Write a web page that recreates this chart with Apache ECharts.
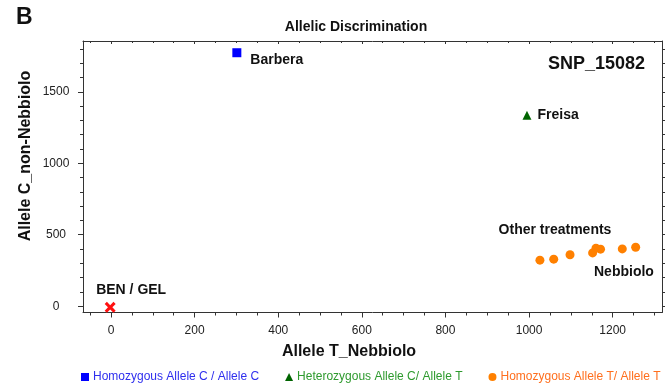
<!DOCTYPE html>
<html>
<head>
<meta charset="utf-8">
<script src="https://cdn.jsdelivr.net/npm/echarts@6/dist/echarts.min.js"></script>
<style>html,body{margin:0;padding:0;background:#fff;}#c{width:668px;height:390px;}</style>
</head>
<body>
<div id="c"></div>
<script>
// ---- data ----
const seriesNames = ['Homozygous Allele C / Allele C', 'Heterozygous Allele C/ Allele T', 'Homozygous Allele T/ Allele T', 'Undetermined'];
const barbera = [[301, 1773]];
const freisa = [[995, 1335]];
const benGel = [[-2, -8]];
const nebbiolo = [[1026, 322], [1059, 329], [1098, 360], [1152, 373], [1160, 406], [1171, 399], [1223, 401], [1255, 412]];
const xMajorTicks = [0, 200, 400, 600, 800, 1000, 1200];
const yMajorTicks = [0, 500, 1000, 1500];
const xRange = [-67, 1318];
const yRange = [-44, 1855];

const xMinorTicks = [];
for (let v = -50; v <= 1300; v += 50) if (v % 200 !== 0) xMinorTicks.push(v);
const yMinorTicks = [];
for (let v = 0; v <= 1800; v += 100) if (v % 500 !== 0) yMinorTicks.push(v);

const FONT = '"Liberation Sans", Arial, sans-serif';
const lineCol = '#333';
const plain = v => String(v);

function axisCommon(extra) {
  return Object.assign({
    type: 'value', splitLine: {show: false},
    axisLine: {show: false, onZero: false, lineStyle: {color: lineCol, width: 1}},
    axisLabel: {show: false}
  }, extra);
}

const xAxes = [
  axisCommon({min: xRange[0], max: xRange[1], position: 'bottom',
    axisLine: {show: true, onZero: false, lineStyle: {color: lineCol, width: 1}},
    axisTick: {show: true, customValues: xMajorTicks, length: 5, lineStyle: {color: lineCol}},
    axisLabel: {show: true, customValues: xMajorTicks, formatter: plain, margin: 12, color: '#222', fontSize: 12, fontFamily: FONT}}),
  axisCommon({min: xRange[0], max: xRange[1], position: 'bottom',
    axisTick: {show: true, customValues: xMinorTicks, length: 3, lineStyle: {color: lineCol}}}),
  axisCommon({min: xRange[0], max: xRange[1], position: 'top',
    axisLine: {show: true, onZero: false, lineStyle: {color: lineCol, width: 1}},
    axisTick: {show: true, inside: true, customValues: xMajorTicks, length: 3, lineStyle: {color: lineCol}}}),
  axisCommon({min: xRange[0], max: xRange[1], position: 'top',
    axisTick: {show: true, inside: true, customValues: xMinorTicks, length: 2, lineStyle: {color: lineCol}}})
];
const yAxes = [
  axisCommon({min: yRange[0], max: yRange[1], position: 'left',
    axisLine: {show: true, onZero: false, lineStyle: {color: lineCol, width: 1}},
    axisTick: {show: true, customValues: yMajorTicks, length: 5, lineStyle: {color: lineCol}},
    axisLabel: {show: true, customValues: yMajorTicks, formatter: plain, align: 'center', margin: 27, color: '#222', fontSize: 12, fontFamily: FONT}}),
  axisCommon({min: yRange[0], max: yRange[1], position: 'left',
    axisTick: {show: true, customValues: yMinorTicks, length: 3, lineStyle: {color: lineCol}}}),
  axisCommon({min: yRange[0], max: yRange[1], position: 'right',
    axisLine: {show: true, onZero: false, lineStyle: {color: lineCol, width: 1}},
    axisTick: {show: true, customValues: yMajorTicks, length: 3, lineStyle: {color: lineCol}}}),
  axisCommon({min: yRange[0], max: yRange[1], position: 'right',
    axisTick: {show: true, customValues: yMinorTicks, length: 3, lineStyle: {color: lineCol}}})
];

const lblStyle = {show: true, color: '#111', fontSize: 14, fontWeight: 'bold', fontFamily: FONT, opacity: 1, textBorderWidth: 0};

const chart = echarts.init(document.getElementById('c'), null, {renderer: 'canvas'});
chart.setOption({
  animation: false,
  backgroundColor: '#fff',
  grid: {left: 83, right: 6, top: 41, bottom: 77.5, containLabel: false},
  xAxis: xAxes,
  yAxis: yAxes,
  legend: {
    data: [
      {name: seriesNames[0], icon: 'rect', textStyle: {color: '#2f2fee'}},
      {name: seriesNames[1], icon: 'triangle', textStyle: {color: '#2e9a2e'}},
      {name: seriesNames[2], icon: 'circle', textStyle: {color: '#ff6f1e'}}
    ],
    left: 81, top: 371, width: 640, padding: 0, itemWidth: 8, itemHeight: 8, itemGap: 26,
    textStyle: {fontSize: 12, fontFamily: FONT, padding: [0, 0, 0, -1]}
  },
  graphic: [
    {type: 'text', left: 16, top: 6, style: {text: 'B', font: 'bold 23px ' + FONT, fill: '#111'}},
    {type: 'text', x: 356, y: 27, style: {text: 'Allelic Discrimination', font: 'bold 14px ' + FONT, fill: '#111', align: 'center', verticalAlign: 'middle'}},
    {type: 'text', x: 645, y: 64, style: {text: 'SNP_15082', font: 'bold 18px ' + FONT, fill: '#111', align: 'right', verticalAlign: 'middle'}},
    {type: 'text', x: 555, y: 230, style: {text: 'Other treatments', font: 'bold 14px ' + FONT, fill: '#111', align: 'center', verticalAlign: 'middle'}},
    {type: 'text', x: 594, y: 272, style: {text: 'Nebbiolo', font: 'bold 14px ' + FONT, fill: '#111', align: 'left', verticalAlign: 'middle'}},
    {type: 'text', x: 349, y: 352, style: {text: 'Allele T_Nebbiolo', font: 'bold 16px ' + FONT, fill: '#111', align: 'center', verticalAlign: 'middle'}},
    {type: 'text', x: 26, y: 156, rotation: Math.PI / 2, style: {text: 'Allele C_non-Nebbiolo', font: 'bold 16px ' + FONT, fill: '#111', align: 'center', verticalAlign: 'middle'}}
  ],
  series: [
    {name: seriesNames[0], type: 'scatter', data: barbera, symbol: 'rect', symbolSize: 9,
      itemStyle: {color: '#0000ff', opacity: 1},
      label: Object.assign({}, lblStyle, {position: 'right', offset: [4, 7], formatter: 'Barbera'})},
    {name: seriesNames[1], type: 'scatter', data: freisa, symbol: 'triangle', symbolSize: 9,
      itemStyle: {color: '#006400', opacity: 1},
      label: Object.assign({}, lblStyle, {position: 'right', offset: [1, 0], formatter: 'Freisa'})},
    {name: seriesNames[2], type: 'scatter', data: nebbiolo, symbol: 'circle', symbolSize: 9,
      itemStyle: {color: '#ff8000', opacity: 1}},
    {name: seriesNames[3], type: 'scatter', data: benGel,
      symbol: 'path://M0,2 L2,0 L5,3 L8,0 L10,2 L7,5 L10,8 L8,10 L5,7 L2,10 L0,8 L3,5 Z', symbolSize: 11,
      itemStyle: {color: '#ff1010', opacity: 1},
      label: Object.assign({}, lblStyle, {position: 'top', offset: [21, 0], formatter: 'BEN / GEL'})}
  ]
});
</script>
</body>
</html>
